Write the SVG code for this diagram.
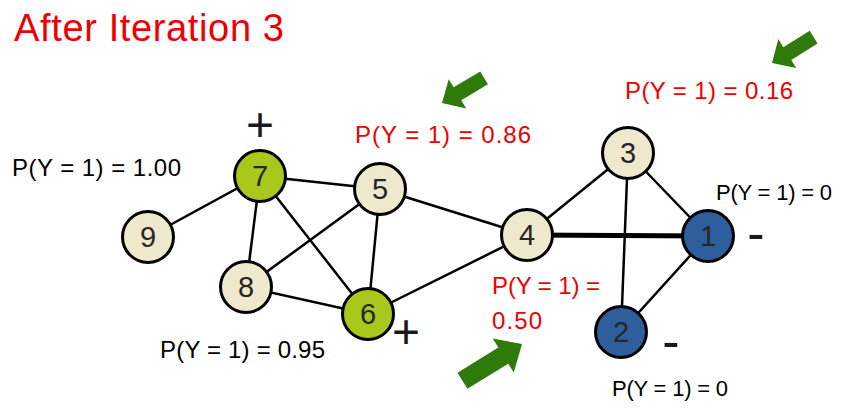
<svg xmlns="http://www.w3.org/2000/svg" width="849" height="413" viewBox="0 0 849 413">
<style>
.lbl{font-family:"Liberation Sans",Arial,sans-serif;font-size:24px}
.sm{font-size:22px}
.red{fill:#ee0000}
.blk{fill:#000}
.edge{stroke:#000;stroke-width:2.5;fill:none}
.node circle{stroke:#000;stroke-width:3}
.beige{fill:#eee8cd}
.green{fill:#a8c81c}
.blue{fill:#2f5e9c}
.num{font-family:"Liberation Sans",Arial,sans-serif;font-size:29px;fill:#262626;text-anchor:middle}
.sign{font-family:"Liberation Sans",Arial,sans-serif;fill:#1a1a1a;text-anchor:middle}
.arrow{fill:#2e7a0b}
</style>
<rect width="849" height="413" fill="#fff"/>
<text x="14" y="41" class="lbl red" style="font-size:38px" textLength="270">After Iteration 3</text>
<g id="connectors">
<line class="edge" x1="260" y1="176" x2="148" y2="237"/>
<line class="edge" x1="260" y1="176" x2="380" y2="189"/>
<line class="edge" x1="260" y1="176" x2="246" y2="287"/>
<line class="edge" x1="260" y1="176" x2="368" y2="314"/>
<line class="edge" x1="380" y1="189" x2="246" y2="287"/>
<line class="edge" x1="380" y1="189" x2="368" y2="314"/>
<line class="edge" x1="380" y1="189" x2="527" y2="235"/>
<line class="edge" x1="246" y1="287" x2="368" y2="314"/>
<line class="edge" x1="368" y1="314" x2="527" y2="235"/>
<line class="edge" x1="527" y1="235" x2="628" y2="153"/>
<line class="edge" x1="527" y1="235" x2="708" y2="236" style="stroke-width:5"/>
<line class="edge" x1="628" y1="153" x2="708" y2="236"/>
<line class="edge" x1="628" y1="153" x2="621" y2="332"/>
<line class="edge" x1="708" y1="236" x2="621" y2="332"/>
</g>
<g id="node7" class="node"><circle class="green" cx="260" cy="176" r="25.5"/><text class="num" x="260" y="186">7</text></g>
<g id="node5" class="node"><circle class="beige" cx="380" cy="189" r="25.5"/><text class="num" x="380" y="199">5</text></g>
<g id="node9" class="node"><circle class="beige" cx="148" cy="237" r="25.5"/><text class="num" x="148" y="247">9</text></g>
<g id="node8" class="node"><circle class="beige" cx="246" cy="287" r="25.5"/><text class="num" x="246" y="297">8</text></g>
<g id="node6" class="node"><circle class="green" cx="368" cy="314" r="25.5"/><text class="num" x="368" y="324">6</text></g>
<g id="node4" class="node"><circle class="beige" cx="527" cy="235" r="25.5"/><text class="num" x="527" y="245">4</text></g>
<g id="node3" class="node"><circle class="beige" cx="628" cy="153" r="25.5"/><text class="num" x="628" y="163">3</text></g>
<g id="node1" class="node"><circle class="blue" cx="708" cy="236" r="25.5"/><text class="num" x="708" y="246">1</text></g>
<g id="node2" class="node"><circle class="blue" cx="621" cy="332" r="25.5"/><text class="num" x="621" y="342">2</text></g>
<g id="signs">
<text class="sign" x="260" y="141" font-size="48">+</text>
<text class="sign" x="406" y="348" font-size="48">+</text>
<text class="sign" x="756" y="251" font-size="52">-</text>
<text class="sign" x="671" y="359" font-size="52">-</text>
</g>
<g id="labels">
<text x="12" y="176" class="lbl blk" textLength="169">P(Y = 1) = 1.00</text>
<text x="355" y="143" class="lbl red" textLength="176">P(Y = 1) = 0.86</text>
<text x="625" y="99" class="lbl red" textLength="168">P(Y = 1) = 0.16</text>
<text x="716" y="200" class="lbl sm blk" textLength="116">P(Y = 1) = 0</text>
<text x="492" y="294" class="lbl red" textLength="108">P(Y = 1) =</text>
<text x="492" y="329" class="lbl red" textLength="50">0.50</text>
<text x="612" y="396" class="lbl sm blk" textLength="116">P(Y = 1) = 0</text>
<text x="160" y="358" class="lbl blk" textLength="165">P(Y = 1) = 0.95</text>
</g>
<g id="arrows">
<polygon class="arrow" points="0,0 -18,-17 -18,-7.5 -49,-7.5 -49,7.5 -18,7.5 -18,17" transform="translate(442,103) rotate(149.2)"/>
<polygon class="arrow" points="0,0 -18,-17 -18,-7.5 -49,-7.5 -49,7.5 -18,7.5 -18,17" transform="translate(772,63) rotate(148.2)"/>
<polygon class="arrow" points="0,0 -22,-20 -22,-9.5 -70,-9.5 -70,9.5 -22,9.5 -22,20" transform="translate(522,344) rotate(-31.7)"/>
</g>
</svg>
